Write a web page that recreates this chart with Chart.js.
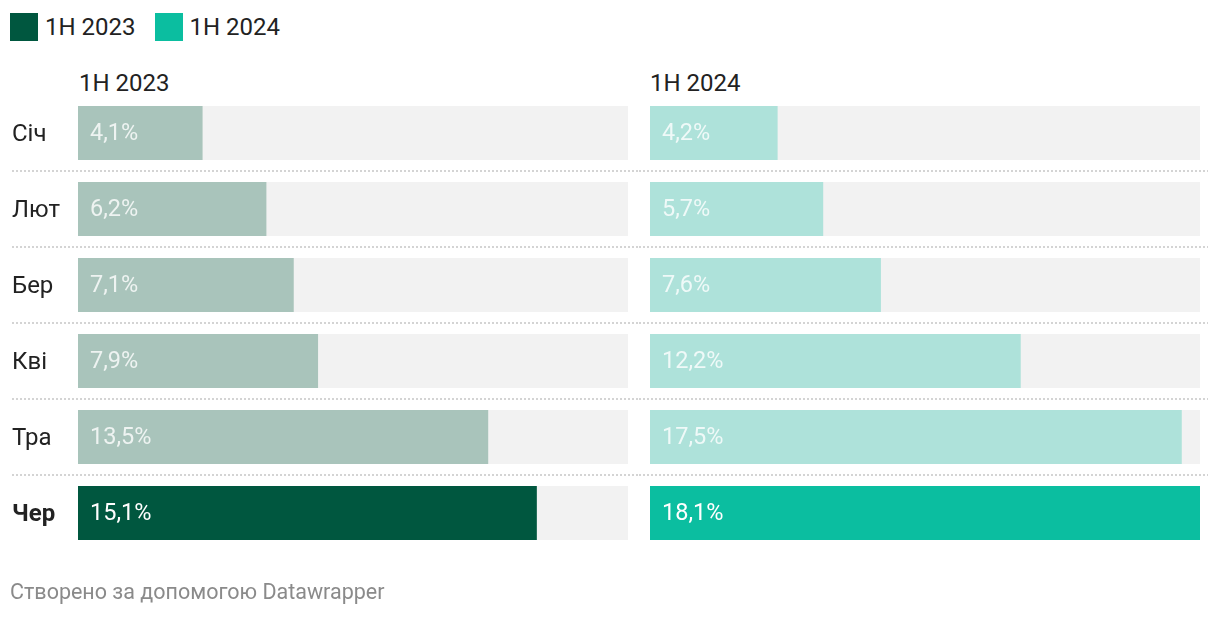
<!DOCTYPE html>
<html lang="uk">
<head>
<meta charset="utf-8">
<script src="https://cdn.jsdelivr.net/npm/chart.js@4"></script>
<style>
    html, body { margin: 0; padding: 0; background: #fff; }
    body { width: 1220px; height: 618px; position: relative; overflow: hidden; font-family: Roboto, sans-serif; color: #222; }
    .legend { position: absolute; left: 10px; top: 13px; display: flex; align-items: center; font-size: 24px; }
    .legend .sw { width: 28px; height: 28px; display: inline-block; margin-right: 7px; }
    .legend .item { display: flex; align-items: center; margin-right: 19px; }
    .title { position: absolute; top: 69px; font-size: 24px; line-height: 28px; }
    .footer { position: absolute; left: 10px; top: 579px; font-size: 21.5px; line-height: 26px; color: #8a8a8a; }
    canvas { position: absolute; top: 0; }
</style>
</head>
<body>
<div class="legend">
    <span class="item"><span class="sw" style="background:#00573f"></span>1H 2023</span>
    <span class="item"><span class="sw" style="background:#0bbea0"></span>1H 2024</span>
</div>
<div class="title" style="left:79px">1H 2023</div>
<div class="title" style="left:650px">1H 2024</div>
<div style="position:absolute;left:0;top:0;width:639px;height:618px"><canvas id="chart-left"></canvas></div>
<div style="position:absolute;left:639px;top:0;width:581px;height:618px"><canvas id="chart-right"></canvas></div>
<div class="footer">Створено за допомогою Datawrapper</div>

<script>
// дані з графіка
const months = ['Січ', 'Лют', 'Бер', 'Кві', 'Тра', 'Чер'];
const values2023 = [4.1, 6.2, 7.1, 7.9, 13.5, 15.1];
const values2024 = [4.2, 5.7, 7.6, 12.2, 17.5, 18.1];
const track = [18.1, 18.1, 18.1, 18.1, 18.1, 18.1];
const axisMax = 18.1;

const fmt = v => v.toFixed(1).replace('.', ',') + '%';

// підписи значень, місяців і пунктирні розділювачі
const rowPlugin = {
    id: 'rowPlugin',
    beforeDatasetsDraw(chart, args, opts) {
        const ctx = chart.ctx;
        const y = chart.scales.y;
        ctx.save();
        ctx.strokeStyle = '#d4d4d4';
        ctx.lineWidth = 2;
        ctx.setLineDash([2, 2]);
        for (let i = 0; i < months.length - 1; i++) {
            const py = Math.round((y.getPixelForValue(i) + y.getPixelForValue(i + 1)) / 2);
            ctx.beginPath();
            ctx.moveTo(opts.lineFrom, py);
            ctx.lineTo(opts.lineTo, py);
            ctx.stroke();
        }
        ctx.restore();
    },
    afterDatasetsDraw(chart, args, opts) {
        const ctx = chart.ctx;
        const meta = chart.getDatasetMeta(1);
        ctx.save();
        ctx.textBaseline = 'middle';
        ctx.textAlign = 'left';
        meta.data.forEach((bar, i) => {
            const last = i === months.length - 1;
            ctx.font = '23.5px Roboto';
            ctx.fillStyle = last ? '#ffffff' : 'rgba(255,255,255,0.8)';
            ctx.fillText(fmt(chart.data.datasets[1].data[i]), chart.chartArea.left + 12, bar.y + 1);
            if (opts.showMonths) {
                ctx.fillStyle = '#222';
                ctx.font = (last ? 'bold ' : '') + '24px Roboto';
                ctx.fillText(months[i], 12, bar.y + 2);
            }
        });
        ctx.restore();
    }
};

function makeChart(id, values, light, strong, pad, plugOpts) {
    const colors = values.map((v, i) => i === values.length - 1 ? strong : light);
    return new Chart(document.getElementById(id), {
        type: 'bar',
        data: {
            labels: months,
            datasets: [
                { data: track, backgroundColor: '#f2f2f2', order: 2, grouped: false },
                { data: values, backgroundColor: colors, order: 1, grouped: false }
            ]
        },
        options: {
            indexAxis: 'y',
            responsive: true,
            maintainAspectRatio: false,
            animation: false,
            layout: { padding: pad },
            datasets: { bar: { categoryPercentage: 54 / 76, barPercentage: 1, borderWidth: 0 } },
            scales: {
                x: { display: false, min: 0, max: axisMax },
                y: { display: false }
            },
            plugins: {
                legend: { display: false },
                tooltip: { enabled: false },
                rowPlugin: plugOpts
            }
        },
        plugins: [rowPlugin]
    });
}

makeChart('chart-left', values2023, '#a9c4bb', '#00573f',
    { left: 78, right: 11, top: 95, bottom: 67 },
    { showMonths: true, lineFrom: 12, lineTo: 639 });
makeChart('chart-right', values2024, '#aee2da', '#0bbea0',
    { left: 11, right: 20, top: 95, bottom: 67 },
    { showMonths: false, lineFrom: 0, lineTo: 569 });
</script>
</body>
</html>
